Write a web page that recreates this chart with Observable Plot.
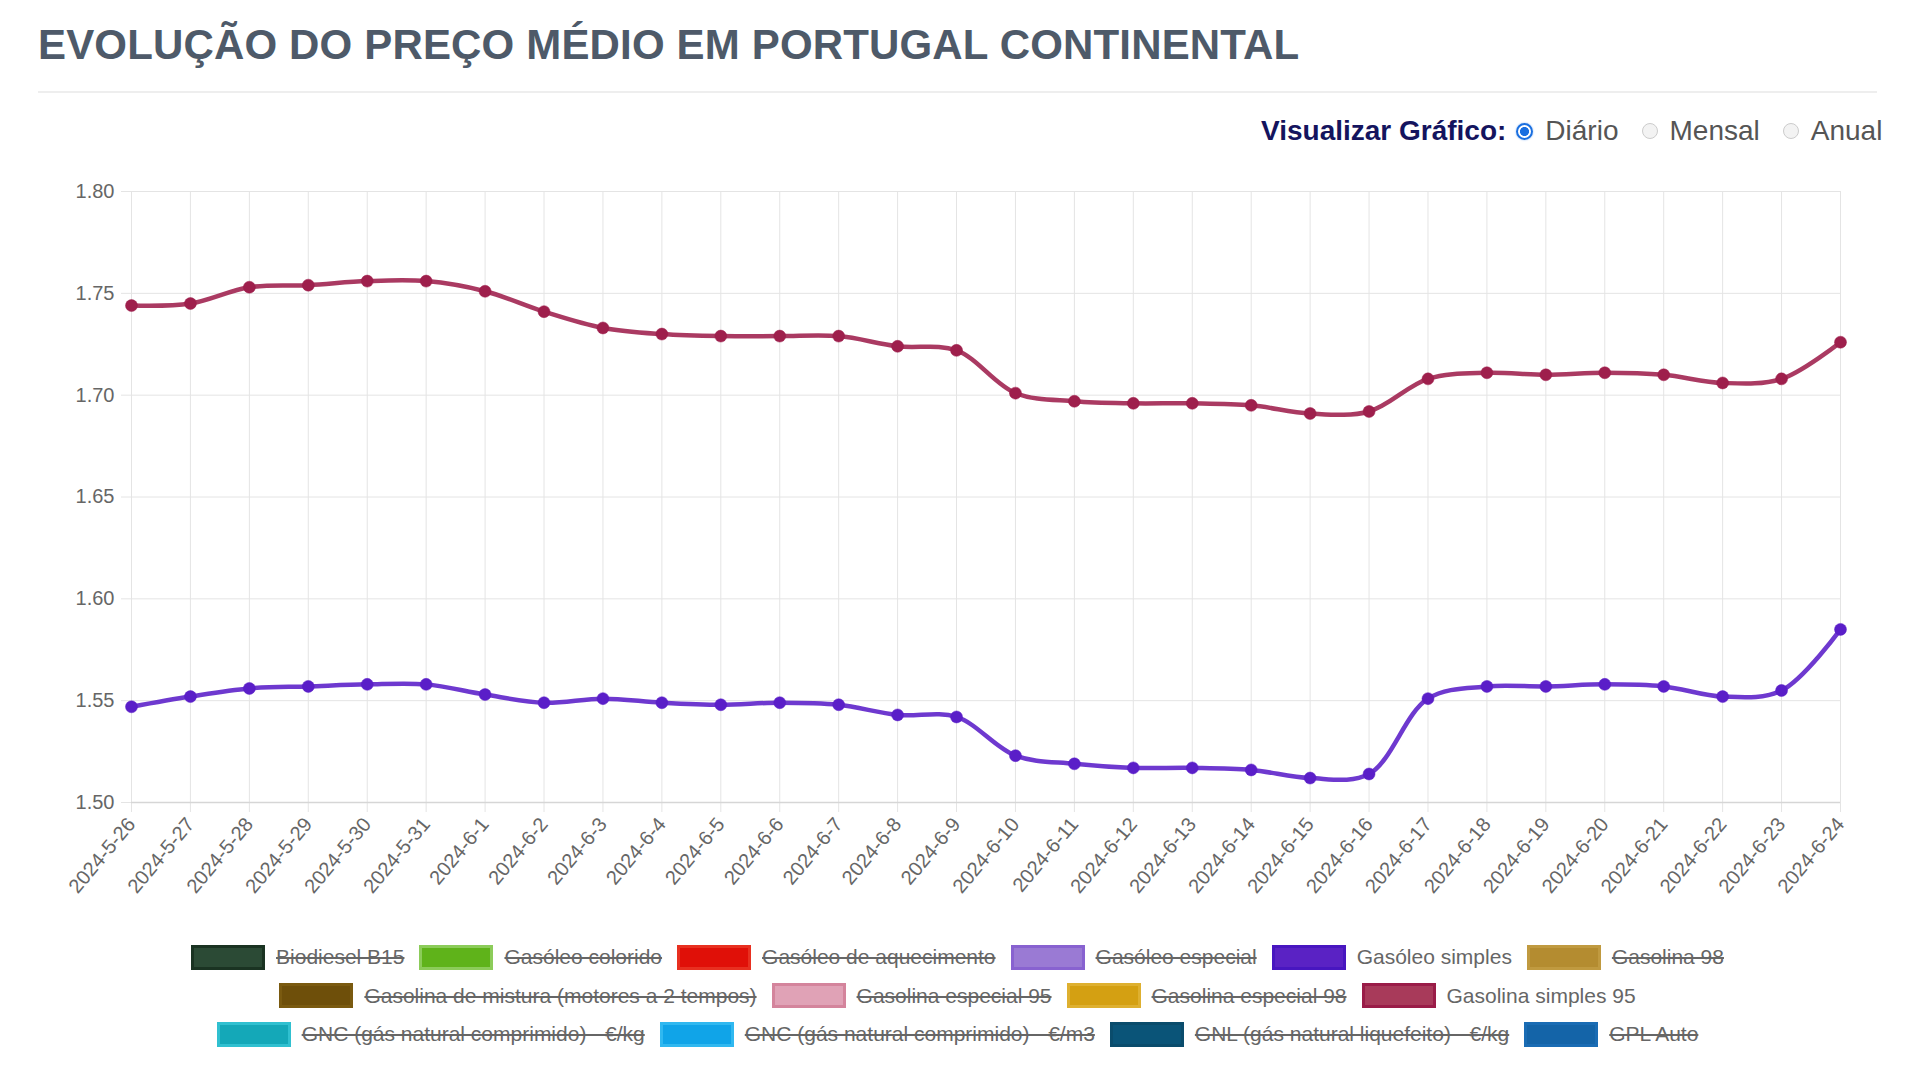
<!DOCTYPE html>
<html>
<head>
<meta charset="utf-8">
<script src="https://cdn.jsdelivr.net/npm/d3@7"></script>
<script src="https://cdn.jsdelivr.net/npm/@observablehq/plot@0.6"></script>
<style>
  html, body { margin: 0; padding: 0; background: #fff; }
  body { width: 1920px; height: 1084px; position: relative; overflow: hidden; font-family: "Liberation Sans", Arial, Helvetica, sans-serif; }
  #title { position: absolute; left: 38px; top: 24px; font-size: 42px; line-height: 42px; font-weight: bold; color: #4e5a69; white-space: nowrap; letter-spacing: 0.16px; }
  #rule { position: absolute; left: 38px; top: 91px; width: 1839px; height: 2px; background: #eeeeee; }
  #controls { position: absolute; left: 1261px; top: 116px; height: 30px; line-height: 30px; display: flex; align-items: center; font-size: 28px; white-space: nowrap; }
  #controls .lbl { font-weight: bold; color: #14145e; margin-right: 10px; }
  #controls .radio { display: inline-block; width: 16px; height: 16px; border-radius: 50%; border: 1px solid #cccccc; background: #f3f3f3; margin-right: 12px; box-sizing: border-box; }
  #controls .radio.on { border: 2px solid #1a6fe0; background: radial-gradient(circle, #1a6fe0 0 4.2px, #fff 4.8px); width: 17px; height: 17px; box-shadow: 0 0 2px #8ab8f2; }
  #controls .opt { color: #555; margin-right: 23px; }
  #controls .opt:last-child { margin-right: 0; }
  #chart { position: absolute; left: 0; top: 150px; }
  #legend { position: absolute; left: 38px; width: 1839px; top: 938px; font-size: 21px; color: #666; }
  #legend .row { display: flex; justify-content: center; align-items: center; height: 38.5px; }
  #legend .item { display: flex; align-items: center; margin: 0 7.5px; white-space: nowrap; }
  #legend .box { width: 74px; height: 25px; box-sizing: border-box; border: 3px solid; margin-right: 11px; }
  #legend .txt.off { text-decoration: line-through; text-decoration-thickness: 2px; }
</style>
</head>
<body>
<div id="title">EVOLUÇÃO DO PREÇO MÉDIO EM PORTUGAL CONTINENTAL</div>
<div id="rule"></div>
<div id="controls">
  <span class="lbl">Visualizar Gráfico:</span>
  <span class="radio on"></span><span class="opt">Diário</span>
  <span class="radio"></span><span class="opt">Mensal</span>
  <span class="radio"></span><span class="opt">Anual</span>
</div>
<div id="chart"></div>
<div id="legend"></div>
<script>
// ---- Data ----
const dates = [
  "2024-5-26","2024-5-27","2024-5-28","2024-5-29","2024-5-30","2024-5-31",
  "2024-6-1","2024-6-2","2024-6-3","2024-6-4","2024-6-5","2024-6-6","2024-6-7",
  "2024-6-8","2024-6-9","2024-6-10","2024-6-11","2024-6-12","2024-6-13","2024-6-14",
  "2024-6-15","2024-6-16","2024-6-17","2024-6-18","2024-6-19","2024-6-20","2024-6-21",
  "2024-6-22","2024-6-23","2024-6-24"
];
const gasolinaSimples95 = [
  1.744, 1.745, 1.753, 1.754, 1.756, 1.756,
  1.751, 1.741, 1.733, 1.730, 1.729, 1.729, 1.729,
  1.724, 1.722, 1.701, 1.697, 1.696, 1.696, 1.695,
  1.691, 1.692, 1.708, 1.711, 1.710, 1.711, 1.710,
  1.706, 1.708, 1.726
];
const gasoleoSimples = [
  1.547, 1.552, 1.556, 1.557, 1.558, 1.558,
  1.553, 1.549, 1.551, 1.549, 1.548, 1.549, 1.548,
  1.543, 1.542, 1.523, 1.519, 1.517, 1.517, 1.516,
  1.512, 1.514, 1.551, 1.557, 1.557, 1.558, 1.557,
  1.552, 1.555, 1.585
];
const yTicks = [1.50, 1.55, 1.60, 1.65, 1.70, 1.75, 1.80];

const legendNames = [
  "Biodiesel B15", "Gasóleo colorido", "Gasóleo de aquecimento", "Gasóleo especial", "Gasóleo simples", "Gasolina 98",
  "Gasolina de mistura (motores a 2 tempos)", "Gasolina especial 95", "Gasolina especial 98", "Gasolina simples 95",
  "GNC (gás natural comprimido) - €/kg", "GNC (gás natural comprimido) - €/m3", "GNL (gás natural liquefeito) - €/kg", "GPL Auto"
];
const legendFill = [
  "#2b4a35", "#5fb31a", "#e01008", "#9a7ad4", "#5a22c4", "#b48c30",
  "#6e4f0a", "#e0a2b6", "#d4a012", "#a83a5a",
  "#14a8b8", "#10a4e8", "#0a5478", "#1464a8"
];
const legendBorder = [
  "#1a3322", "#8ccc5a", "#e83020", "#8862d0", "#4816c0", "#c09a40",
  "#7a5a10", "#d4849c", "#deb030", "#9a1c48",
  "#30c0d0", "#30b8f0", "#0a4c6c", "#1a6cb4"
];
const legendShown = [false, false, false, false, true, false, false, false, false, true, false, false, false, false];
const legendRowSizes = [6, 4, 4];

const lineColors = { "Gasóleo simples": "#5a1ec8", "Gasolina simples 95": "#9e1f4c" };

// ---- Chart ----
const dayIndex = dates.map((d, i) => i);
const data = dates.flatMap((d, i) => [
  { day: i, date: d, fuel: "Gasolina simples 95", price: gasolinaSimples95[i] },
  { day: i, date: d, fuel: "Gasóleo simples", price: gasoleoSimples[i] }
]);

const chart = Plot.plot({
  width: 1920,
  height: 770,
  marginTop: 41,
  marginBottom: 118,
  marginLeft: 131,
  marginRight: 80,
  style: { fontFamily: "'Liberation Sans', Arial, Helvetica, sans-serif", fontSize: "20px", color: "#666", background: "transparent", overflow: "visible" },
  x: { type: "linear", domain: [0, dates.length - 1], label: null },
  y: { domain: [1.5, 1.8], label: null },
  color: { domain: Object.keys(lineColors), range: Object.values(lineColors) },
  marks: [
    Plot.gridX(dayIndex, { stroke: "#e4e4e4", strokeOpacity: 1, strokeWidth: 1 }),
    Plot.gridY(yTicks, { stroke: "#e4e4e4", strokeOpacity: 1, strokeWidth: 1 }),
    Plot.axisY(yTicks, { tickFormat: d => d.toFixed(2), tickSize: 10, tickPadding: 7, stroke: "#e4e4e4", fill: "#666", fontSize: 20, label: null }),
    Plot.axisX(dayIndex, { tickFormat: i => dates[i], tickRotate: -50, tickSize: 10, tickPadding: 8, stroke: "#e4e4e4", fill: "#666", fontSize: 20, label: null }),
    Plot.ruleY([1.5], { stroke: "#d6d6d6", strokeWidth: 1.5 }),
    Plot.line(data, { x: "day", y: "price", z: "fuel", stroke: "fuel", strokeWidth: 4.5, strokeOpacity: 0.88, curve: "catmull-rom" }),
    Plot.dot(data, { x: "day", y: "price", fill: "fuel", r: 6, stroke: "fuel", strokeWidth: 0.5 })
  ]
});
document.getElementById("chart").appendChild(chart);

// ---- Legend ----
const legend = document.getElementById("legend");
let idx = 0;
for (const n of legendRowSizes) {
  const row = document.createElement("div");
  row.className = "row";
  for (let k = 0; k < n; k++, idx++) {
    const item = document.createElement("div");
    item.className = "item";
    const box = document.createElement("span");
    box.className = "box";
    box.style.background = legendFill[idx];
    box.style.borderColor = legendBorder[idx];
    const txt = document.createElement("span");
    txt.className = "txt" + (legendShown[idx] ? "" : " off");
    txt.textContent = legendNames[idx];
    item.appendChild(box);
    item.appendChild(txt);
    row.appendChild(item);
  }
  legend.appendChild(row);
}
</script>
</body>
</html>
